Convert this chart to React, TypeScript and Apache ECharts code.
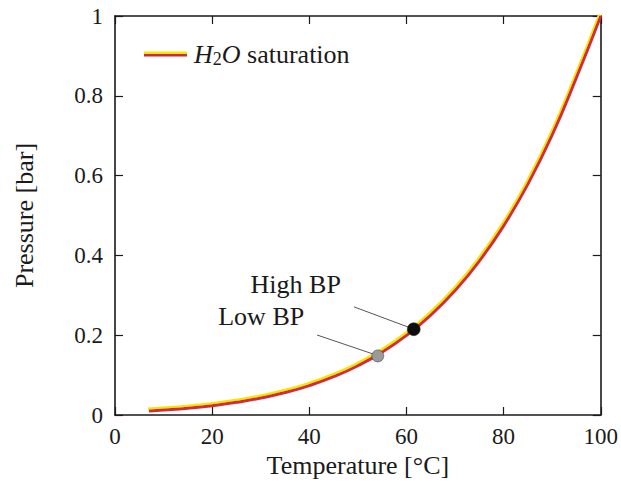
import React, { useEffect, useRef } from "react";
import * as echarts from "echarts";

const temperatures = [7, 10, 15, 20, 25, 30, 35, 40, 45, 50, 55, 60, 65, 70, 75, 80, 85, 90, 95, 100];
const pressures = [0.01, 0.0123, 0.017, 0.0234, 0.0317, 0.0425, 0.0563, 0.0738, 0.0959, 0.1235, 0.1576, 0.1995, 0.2504, 0.312, 0.3859, 0.4741, 0.5787, 0.7018, 0.8461, 1.0];

const pointNames = ["High BP", "Low BP"];
const pointT = [61.5, 54.1];
const pointP = [0.215, 0.148];
const pointColors = ["#0d0d0d", "#9a9a9a"];
const pointSizes = [13, 12];
const labelT = [37.2, 30.1];
const labelP = [0.328, 0.248];
const leaderStart = [[49.2, 0.271], [41.6, 0.2005]];
const leaderEnd = [[60.3, 0.2206], [53.1, 0.153]];

const FONT = "Liberation Serif";
const TEXT = "#1a1a1a";

export default function App() {
  const ref = useRef<HTMLDivElement>(null);
  useEffect(() => {
    if (!ref.current) return;
    const chart = echarts.init(ref.current, undefined, { renderer: "svg" });
    const axisLine = { show: true, onZero: false, lineStyle: { color: "#1a1a1a", width: 1.6 } };
    const axisTick = { show: true, inside: true, length: 8, lineStyle: { color: "#1a1a1a", width: 1.2 } };
    const curve = temperatures.map((t, i) => [t, pressures[i]]);
    chart.setOption({
      animation: false,
      backgroundColor: "#ffffff",
      grid: { left: 115, right: 20, top: 16, bottom: 74 },
      legend: {
        left: 139,
        top: 36,
        itemWidth: 43,
        itemHeight: 5,
        itemGap: 10,
        icon: "rect",
        data: [{
          name: "H2O saturation",
          itemStyle: {
            color: {
              type: "linear", x: 0, y: 0, x2: 0, y2: 1,
              colorStops: [
                { offset: 0, color: "#f5e600" },
                { offset: 0.4, color: "#f5e600" },
                { offset: 0.4, color: "#d42a3c" },
                { offset: 1, color: "#c2284a" },
              ],
            },
          },
        }],
        formatter: () => "{i|H}{s|2}{i|O} saturation",
        textStyle: {
          fontFamily: FONT,
          fontSize: 26,
          color: TEXT,
          padding: [0, 0, 0, 2],
          rich: {
            i: { fontFamily: FONT, fontStyle: "italic", fontSize: 26, color: TEXT },
            s: { fontFamily: FONT, fontSize: 18, color: TEXT, padding: [10, 0, 0, 0] },
          },
        },
      },
      xAxis: [
        {
          type: "value", min: 0, max: 100, interval: 20, position: "bottom",
          axisLine, axisTick, splitLine: { show: false },
          axisLabel: { fontFamily: FONT, fontSize: 23, color: TEXT, margin: 10 },
          name: "Temperature [°C]", nameLocation: "middle", nameGap: 36,
          nameTextStyle: { fontFamily: FONT, fontSize: 26, color: TEXT },
        },
        {
          type: "value", min: 0, max: 100, interval: 20, position: "top",
          axisLine, axisTick, splitLine: { show: false }, axisLabel: { show: false },
        },
      ],
      yAxis: [
        {
          type: "value", min: 0, max: 1, interval: 0.2, position: "left",
          axisLine, axisTick, splitLine: { show: false },
          axisLabel: { fontFamily: FONT, fontSize: 23, color: TEXT, margin: 12, formatter: (v: number) => (v === 0 ? "0" : v === 1 ? "1" : String(+v.toFixed(1))) },
          name: "Pressure [bar]", nameLocation: "middle", nameGap: 78,
          nameTextStyle: { fontFamily: FONT, fontSize: 26, color: TEXT },
        },
        {
          type: "value", min: 0, max: 1, interval: 0.2, position: "right",
          axisLine, axisTick, splitLine: { show: false }, axisLabel: { show: false },
        },
      ],
      series: [
        {
          name: "H2O saturation",
          type: "line",
          smooth: true,
          showSymbol: false,
          symbol: "none",
          data: curve,
          color: "#d42a3c",
          lineStyle: {
            color: "#d42a3c", width: 3,
            shadowColor: "#f5e600", shadowBlur: 0, shadowOffsetX: -1, shadowOffsetY: -2,
          },
          z: 3,
        },
        {
          name: "annotations",
          type: "scatter",
          symbol: "circle",
          symbolSize: 1,
          itemStyle: { color: "#ffffff", opacity: 1, borderWidth: 0 },
          silent: true,
          data: pointNames.map((n, i) => ({ name: n, value: [labelT[i], labelP[i]] })),
          label: {
            show: true, position: "inside", formatter: (p: any) => p.name,
            fontFamily: FONT, fontSize: 26, color: TEXT, opacity: 1,
            textBorderWidth: 0,
          },
          markLine: {
            silent: true,
            symbol: "none",
            label: { show: false },
            lineStyle: { color: "#555", width: 1, type: "solid", opacity: 1 },
            data: leaderStart.map((s, i) => [{ coord: s }, { coord: leaderEnd[i] }]),
          },
          z: 4,
        },
        {
          name: "points",
          type: "scatter",
          data: pointNames.map((n, i) => ({
            name: n,
            value: [pointT[i], pointP[i]],
            symbolSize: pointSizes[i],
            itemStyle: { color: pointColors[i], borderColor: "#333", borderWidth: 0.5, opacity: 1 },
          })),
          z: 5,
        },
      ],
    });
    return () => chart.dispose();
  }, []);
  return <div ref={ref} style={{ position: "absolute", left: 0, top: 0, width: 621, height: 489 }} />;
}
